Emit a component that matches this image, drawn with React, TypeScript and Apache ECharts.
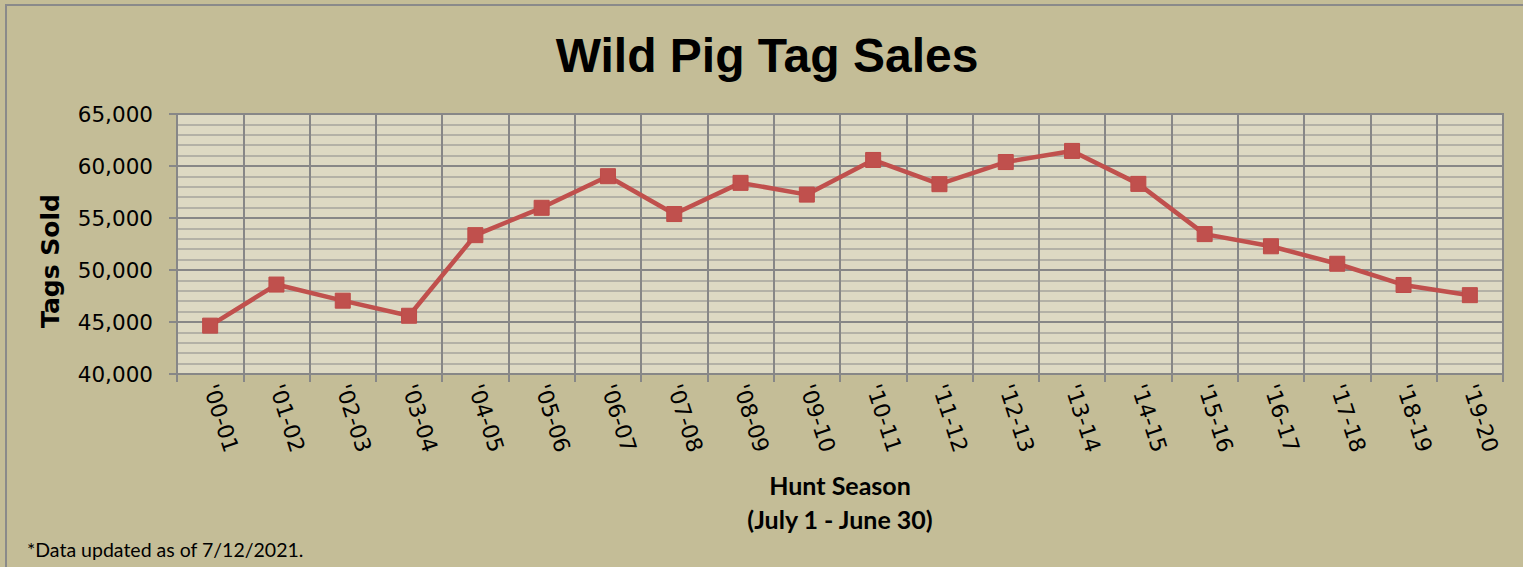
import React, { useEffect, useRef } from "react";
import * as echarts from "echarts";

const seasons = [
  "'00-01", "'01-02", "'02-03", "'03-04", "'04-05", "'05-06", "'06-07", "'07-08", "'08-09", "'09-10",
  "'10-11", "'11-12", "'12-13", "'13-14", "'14-15", "'15-16", "'16-17", "'17-18", "'18-19", "'19-20",
];
const tagsSold = [
  44650, 48600, 47050, 45600, 53350, 55980, 59020, 55380, 58380, 57250,
  60580, 58250, 60380, 61450, 58280, 53450, 52280, 50600, 48560, 47580,
];
const yMin = 40000;
const yMax = 65000;
const yStep = 5000;

const title = "Wild Pig Tag Sales";
const yName = "Tags Sold";
const xName1 = "Hunt Season";
const xName2 = "(July 1 - June 30)";
const footnote = "*Data updated as of 7/12/2021.";

export default function App() {
  const ref = useRef<HTMLDivElement>(null);
  useEffect(() => {
    if (!ref.current) return;
    const chart = echarts.init(ref.current, null, { renderer: "svg" });
    chart.setOption({
      animation: false,
      backgroundColor: "#C4BD97",
      grid: {
        left: 177,
        top: 114,
        right: 20,
        bottom: 193,
        show: true,
        backgroundColor: "#DDD9C3",
        borderColor: "#878787",
        borderWidth: 2,
      },
      xAxis: {
        type: "category",
        data: seasons,
        boundaryGap: true,
        axisLine: { show: true, lineStyle: { color: "#878787", width: 2 } },
        axisTick: { show: true, length: 8, interval: 0, lineStyle: { color: "#878787", width: 2 } },
        splitLine: { show: true, interval: 0, lineStyle: { color: "#878787", width: 2 } },
        axisLabel: {
          interval: 0,
          rotate: -72,
          margin: 11,
          color: "#000",
          fontSize: 22,
          fontFamily: "DejaVu Sans",
        },
      },
      yAxis: {
        type: "value",
        min: yMin,
        max: yMax,
        interval: yStep,
        axisLine: { show: true, lineStyle: { color: "#878787", width: 2 } },
        axisTick: { show: true, length: 8, lineStyle: { color: "#878787", width: 2 } },
        splitLine: { show: true, lineStyle: { color: "#878787", width: 2 } },
        minorTick: { show: false, splitNumber: 5 },
        minorSplitLine: { show: true, lineStyle: { color: "#B3B1A6", width: 2 } },
        axisLabel: {
          margin: 24,
          color: "#000",
          fontSize: 21.5,
          fontFamily: "DejaVu Sans",
          formatter: (v: number) => v.toLocaleString("en-US"),
        },
      },
      series: [
        {
          type: "line",
          data: tagsSold,
          symbol: "rect",
          symbolSize: 15,
          lineStyle: { color: "#C0504D", width: 4.5 },
          itemStyle: { color: "#C0504D", borderColor: "#BE4B48", borderWidth: 1 },
          z: 5,
        },
      ],
      graphic: [
        {
          type: "rect",
          shape: { x: 6, y: 5, width: 1600, height: 700 },
          style: { fill: "none", stroke: "#8A8A8A", lineWidth: 2 },
          silent: true,
        },
        {
          type: "text",
          x: 767,
          y: 55,
          style: {
            text: title,
            fontFamily: "Liberation Sans",
            fontWeight: "bold",
            fontSize: 48,
            fill: "#000",
            align: "center",
            verticalAlign: "middle",
          },
        },
        {
          type: "text",
          x: 50,
          y: 261,
          rotation: Math.PI / 2,
          style: {
            text: yName,
            fontFamily: "DejaVu Sans",
            fontWeight: "bold",
            fontSize: 25,
            fill: "#000",
            align: "center",
            verticalAlign: "middle",
          },
        },
        {
          type: "text",
          x: 840,
          y: 485,
          style: {
            text: xName1,
            fontFamily: "Lato",
            fontWeight: "bold",
            fontSize: 25,
            fill: "#000",
            align: "center",
            verticalAlign: "middle",
          },
        },
        {
          type: "text",
          x: 840,
          y: 519,
          style: {
            text: xName2,
            fontFamily: "Lato",
            fontWeight: "bold",
            fontSize: 25,
            fill: "#000",
            align: "center",
            verticalAlign: "middle",
          },
        },
        {
          type: "text",
          x: 27,
          y: 549,
          style: {
            text: footnote,
            fontFamily: "Lato",
            fontSize: 19.5,
            fill: "#000",
            align: "left",
            verticalAlign: "middle",
          },
        },
      ],
    });
    return () => chart.dispose();
  }, []);
  return (
    <div
      ref={ref}
      style={{ position: "fixed", left: 0, top: 0, width: 1523, height: 567 }}
    />
  );
}
